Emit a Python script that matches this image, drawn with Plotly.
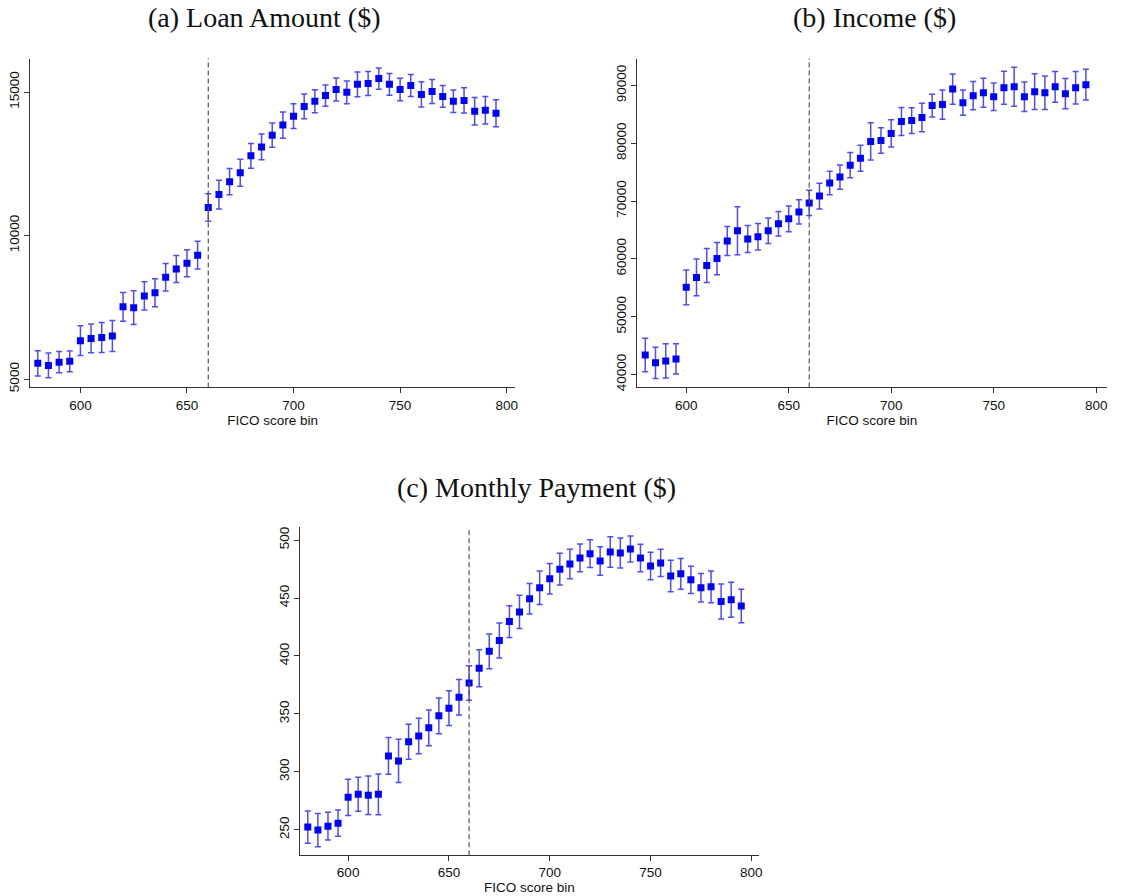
import plotly.graph_objects as go

fico_bins = list(range(580, 800, 5))

loan_amount = [5550, 5480, 5590, 5620, 6340, 6420, 6450, 6500, 7520, 7490,
               7900, 8010, 8550, 8840, 9040, 9320, 10980, 11430, 11880, 12190,
               12780, 13090, 13500, 13850, 14160, 14500, 14680, 14880, 15090, 14990,
               15270, 15300, 15470, 15270, 15090, 15230, 14920, 15020, 14850, 14680,
               14710, 14330, 14370, 14260]
loan_amount_err = [440, 430, 370, 360, 520, 500, 520, 540, 500, 590,
                   490, 490, 480, 470, 470, 480, 480, 500, 460, 470,
                   430, 450, 420, 460, 430, 430, 400, 370, 400, 400,
                   430, 420, 370, 380, 390, 380, 440, 420, 380, 390,
                   440, 480, 480, 470]

income = [43380, 42010, 42350, 42700, 55070, 56780, 58850, 60050, 63080, 64860,
          63430, 63830, 64860, 66060, 66920, 68120, 69670, 70870, 73110, 74140,
          76200, 77400, 80320, 80490, 81700, 83760, 83930, 84450, 86510, 86680,
          89370, 87020, 88230, 88740, 88050, 89600, 89770, 88050, 88910, 88740,
          89770, 88570, 89600, 90120]
income_err = [2890, 2690, 2950, 2630, 3010, 3180, 2950, 2780, 2520, 4150,
              2320, 2290, 2210, 2120, 2210, 2090, 2180, 2230, 2030, 2090,
              2180, 2260, 3240, 2210, 2350, 2430, 2230, 2460, 1950, 2550,
              2610, 2180, 2430, 2520, 2380, 2860, 3380, 2550, 3090, 2890,
              2660, 2610, 2810, 2660]

monthly_payment = [252.3, 249.7, 253.1, 255.7, 278.0, 280.6, 279.7, 280.6, 313.7, 309.4,
                   326.0, 330.9, 338.0, 348.3, 354.9, 364.3, 376.6, 389.4, 404.0, 413.4,
                   429.7, 438.0, 449.4, 458.9, 466.6, 474.9, 479.4, 484.6, 488.3, 482.0,
                   489.7, 488.9, 492.3, 484.6, 477.7, 480.3, 468.9, 470.9, 465.7, 458.9,
                   459.7, 446.9, 448.6, 443.1]
monthly_payment_err = [13.9, 14.3, 12.0, 11.4, 15.6, 14.7, 16.6, 17.6, 15.9, 18.7,
                       15.1, 15.4, 15.4, 15.4, 15.0, 15.3, 14.9, 16.0, 15.0, 15.1,
                       13.7, 14.4, 13.1, 14.4, 13.1, 13.7, 12.7, 12.0, 12.0, 12.3,
                       13.1, 12.9, 11.3, 11.9, 11.9, 11.7, 13.6, 13.3, 11.7, 12.3,
                       13.7, 15.1, 15.1, 14.4]

panel_titles = ["(a) Loan Amount ($)", "(b) Income ($)", "(c) Monthly Payment ($)"]
x_title = "FICO score bin"
cutoff = 660
x_ticks = [600, 650, 700, 750, 800]
y_ticks_a = [5000, 10000, 15000]
y_ticks_b = [40000, 50000, 60000, 70000, 80000, 90000]
y_ticks_c = [250, 300, 350, 400, 450, 500]

W, H = 1138, 896
TICK_FONT = dict(family="Liberation Sans, Arial, sans-serif", size=13.5, color="#111")

def px_x(a, b):
    return [a / W, b / W]

def px_y(top, bottom):
    return [1 - bottom / H, 1 - top / H]

fig = go.Figure()

series = [
    (loan_amount, loan_amount_err, "x", "y"),
    (income, income_err, "x2", "y2"),
    (monthly_payment, monthly_payment_err, "x3", "y3"),
]
for vals, errs, xa, ya in series:
    fig.add_trace(go.Scatter(
        x=fico_bins, y=vals, xaxis=xa, yaxis=ya, mode="markers",
        marker=dict(symbol="square", size=7, color="#0000FF"),
        error_y=dict(type="data", array=errs, visible=True,
                     color="rgba(30,30,255,0.8)", thickness=1.5, width=3),
        showlegend=False, hoverinfo="x+y",
    ))

def xaxis(domain, anchor, rng):
    return dict(domain=domain, anchor=anchor, range=rng, tickvals=x_ticks,
                ticktext=[str(t) for t in x_ticks],
                showline=True, linecolor="#333", linewidth=1, ticks="outside",
                ticklen=5, tickcolor="#333", showgrid=False, zeroline=False,
                tickfont=TICK_FONT,
                title=dict(text=x_title, font=TICK_FONT, standoff=0))

def yaxis(domain, anchor, rng, ticks):
    return dict(domain=domain, anchor=anchor, range=rng, tickvals=ticks,
                ticktext=[str(t) for t in ticks],
                showline=True, linecolor="#333", linewidth=1, ticks="outside",
                ticklen=5, tickcolor="#333", showgrid=False, zeroline=False,
                tickangle=-90, tickfont=TICK_FONT)

fig.update_layout(
    width=W, height=H, margin=dict(l=0, r=0, t=0, b=0),
    paper_bgcolor="white", plot_bgcolor="white",
    xaxis=xaxis(px_x(30, 517), "y", [576.3, 804]),
    yaxis=yaxis(px_y(58, 389), "x", [4713, 16166], y_ticks_a),
    xaxis2=xaxis(px_x(639.3, 1110.7), "y2", [576, 805.2]),
    yaxis2=yaxis(px_y(58, 389), "x2", [37767, 94639], y_ticks_b),
    xaxis3=xaxis(px_x(301, 761.7), "y3", [576.1, 803.8]),
    yaxis3=yaxis(px_y(530, 860), "x3", [228, 510.9], y_ticks_c),
)

for xa, ya in [("x", "y"), ("x2", "y2"), ("x3", "y3")]:
    fig.add_shape(type="line", xref=xa, yref=f"{ya} domain", x0=cutoff, x1=cutoff,
                  y0=0, y1=1, line=dict(color="#555", width=1.2, dash="5px,3px"))

title_font = dict(family="Liberation Serif, Times New Roman, serif", size=28, color="#111")
for text, cx, cy in [(panel_titles[0], 265, 17), (panel_titles[1], 878, 17), (panel_titles[2], 538, 490)]:
    fig.add_annotation(text=text, xref="paper", yref="paper", x=cx / W, y=1 - cy / H,
                       xanchor="center", yanchor="middle", showarrow=False, font=title_font)

fig.write_html("out.html", config={"displayModeBar": False},
               post_script="document.body.style.margin='0';")
